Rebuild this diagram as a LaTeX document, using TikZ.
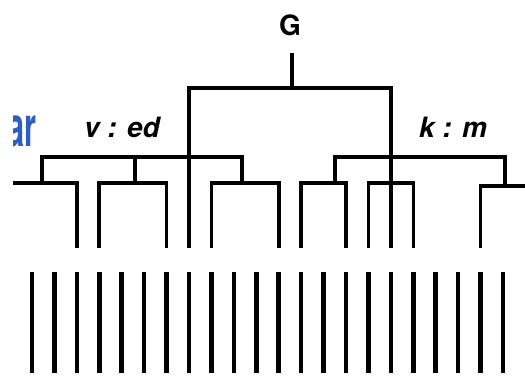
\documentclass[tikz,border=0pt]{standalone}
\usepackage{fontspec}
\setmainfont{TeX Gyre Heros}
\usepackage{tikz}
\definecolor{linkBlue}{RGB}{45, 95, 190}

\begin{document}
\begin{tikzpicture}[x=1pt, y=-1pt,
    tree/.style={line width=3.6pt, line join=miter},
    leafbar/.style={line width=4.6pt},
    lbl/.style={anchor=base, font=\fontsize{28}{30}\selectfont\bfseries}]
      \useasboundingbox (0,0) rectangle (525,379);
      % bars at the bottom
      \foreach \i in {0,...,21}
        \draw[leafbar] ({32+22.43*\i},272) -- ({32+22.43*\i},373);
      % leaf ends of the tree
      \foreach \i in {2,3,6,7,8,11,12,14,15,16,17,20}
        \coordinate (l\i) at ({32+22.43*\i},248);
      \coordinate (edgeL) at (13,183);
      \coordinate (edgeR) at (525,186);
      \coordinate (gStem) at (292,53);
      \coordinate (gBar) at (292,88);
      \coordinate (ja) at (42,157);
      \coordinate (jb) at (135,157);
      \coordinate (jc) at (242,157);
      \coordinate (jd) at (335,157);
      \coordinate (je) at (505,157);

      \node[lbl] (g) at (290,36) {G};
      \node[lbl] (ved) at (122,138) {\itshape v : ed};
      \node[lbl] (km) at (453,138) {\itshape k : m};
      \begin{scope}
        \clip (13,100) rectangle (60,160);
        \node[anchor=base east, font=\fontsize{56}{56}\selectfont\bfseries,
              text=linkBlue, xscale=0.55, inner sep=0pt] (ar) at (37,147) {ar};
      \end{scope}

      % top
      \draw[tree] (gStem) -- (gBar);
      \draw[tree] (l7) -- (l7 |- gBar) -- (l16 |- gBar) -- (l16);
      % v : ed
      \draw[tree] (ja |- edgeL) -- (ja) -- (jc) -- (jc |- edgeL);
      \draw[tree] (jb) -- (jb |- edgeL);
      \draw[tree] (edgeL) -- (l2 |- edgeL) -- (l2);
      \draw[tree] (l3) -- (l3 |- edgeL) -- (l6 |- edgeL) -- (l6);
      \draw[tree] (l8) -- (l8 |- edgeL) -- (l11 |- edgeL) -- (l11);
      % k : m
      \draw[tree] (jd |- edgeL) -- (jd) -- (je) -- (je |- edgeR);
      \draw[tree] (l12) -- (l12 |- edgeL) -- (l14 |- edgeL) -- (l14);
      \draw[tree] (l15) -- (l15 |- edgeL) -- (l17 |- edgeL) -- (l17);
      \draw[tree] (l20) -- (l20 |- edgeR) -- (edgeR);
    \end{tikzpicture}
\end{document}
